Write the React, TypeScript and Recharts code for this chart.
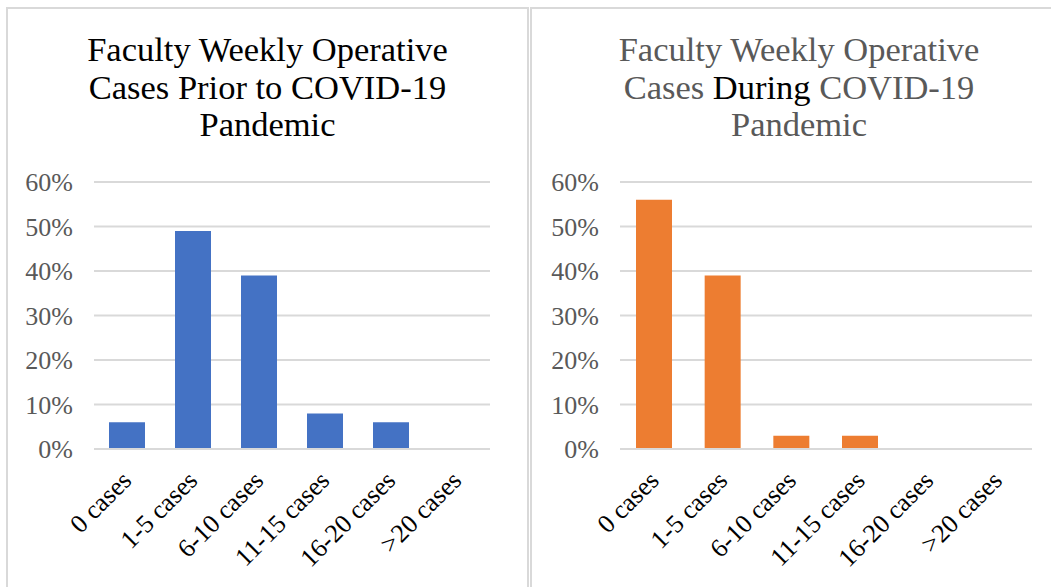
import { BarChart, Bar, XAxis, YAxis, CartesianGrid } from 'recharts';

const categories = ['0 cases', '1-5 cases', '6-10 cases', '11-15 cases', '16-20 cases', '>20 cases'];
const priorValues = [6, 49, 39, 8, 6, 0];
const duringValues = [56, 39, 3, 3, 0, 0];
const yTicks = [0, 10, 20, 30, 40, 50, 60];

const FONT = '"Liberation Serif", "Times New Roman", serif';
const GRID = '#d9d9d9';
const GREY_TEXT = '#595959';

const priorData = categories.map((c, i) => ({ category: c, value: priorValues[i] }));
const duringData = categories.map((c, i) => ({ category: c, value: duringValues[i] }));

function CategoryTick(props: any) {
  const { x, y, payload } = props;
  return (
    <g transform={`translate(${x + 6},${y + 31})`}>
      <text
        transform="rotate(-45)"
        textAnchor="end"
        fill="#000"
        fontSize={26}
        fontFamily={FONT}
      >
        {payload.value}
      </text>
    </g>
  );
}

function Panel({
  data,
  color,
  width,
  yAxisWidth,
  rightMargin,
}: {
  data: { category: string; value: number }[];
  color: string;
  width: number;
  yAxisWidth: number;
  rightMargin: number;
}) {
  return (
    <BarChart
      width={width}
      height={587}
      data={data}
      margin={{ top: 182, right: rightMargin, bottom: 38, left: 0 }}
    >
      <CartesianGrid vertical={false} stroke={GRID} strokeWidth={2} />
      <XAxis
        dataKey="category"
        height={100}
        axisLine={{ stroke: GRID, strokeWidth: 2 }}
        tickLine={false}
        tickSize={0}
        interval={0}
        tick={<CategoryTick />}
      />
      <YAxis
        width={yAxisWidth}
        domain={[0, 60]}
        ticks={yTicks}
        axisLine={false}
        tickLine={false}
        tickSize={0}
        tickMargin={21}
        tickFormatter={(v) => `${v}%`}
        tick={{ fill: GREY_TEXT, fontSize: 26, fontFamily: FONT }}
      />
      <Bar dataKey="value" fill={color} barSize={36} isAnimationActive={false} />
    </BarChart>
  );
}

const titleStyle: React.CSSProperties = {
  position: 'absolute',
  top: 31,
  textAlign: 'center',
  fontFamily: FONT,
  fontSize: 34.5,
  lineHeight: '37.5px',
  whiteSpace: 'nowrap',
};

export default function App() {
  return (
    <div
      style={{
        position: 'absolute',
        left: 0,
        top: 0,
        width: 1051,
        height: 587,
        background: '#fff',
        overflow: 'hidden',
      }}
    >
      <div
        style={{
          position: 'absolute',
          left: 6,
          top: 7,
          width: 519,
          height: 600,
          border: `2px solid ${GRID}`,
        }}
      />
      <div
        style={{
          position: 'absolute',
          left: 530,
          top: 7,
          width: 600,
          height: 600,
          border: `2px solid ${GRID}`,
        }}
      />
      <div style={{ ...titleStyle, left: 6, width: 523, color: '#000' }}>
        Faculty Weekly Operative
        <br />
        Cases Prior to COVID-19
        <br />
        Pandemic
      </div>
      <div style={{ ...titleStyle, left: 530, width: 538, color: GREY_TEXT }}>
        Faculty Weekly Operative
        <br />
        Cases <span style={{ color: '#000' }}>During</span> COVID-19
        <br />
        Pandemic
      </div>
      <div style={{ position: 'absolute', left: 0, top: 0 }}>
        <Panel data={priorData} color="#4472C4" width={530} yAxisWidth={94} rightMargin={40} />
      </div>
      <div style={{ position: 'absolute', left: 530, top: 0 }}>
        <Panel data={duringData} color="#ED7D31" width={521} yAxisWidth={90} rightMargin={19} />
      </div>
    </div>
  );
}
